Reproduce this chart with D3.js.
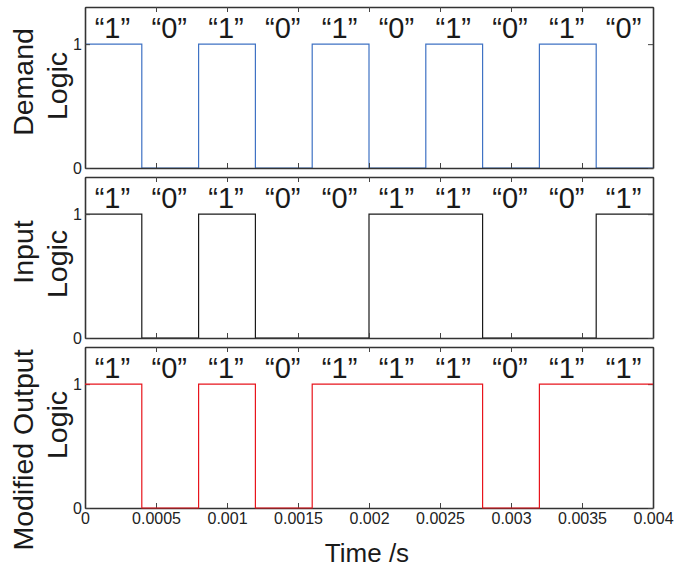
<!DOCTYPE html>
<html>
<head>
<meta charset="utf-8">
<script src="https://cdn.jsdelivr.net/npm/d3@7"></script>
<style>
  body { margin: 0; background: #fff; }
  svg { display: block; font-family: "Liberation Sans", Arial, Helvetica, sans-serif; }
</style>
</head>
<body>
<svg id="chart" width="676" height="572"></svg>
<script>
// ---- data ----
const bitPeriod = 0.0004;            // seconds per bit
const demandBits = [1,0,1,0,1,0,1,0,1,0];
const inputBits  = [1,0,1,0,0,1,1,0,0,1];
const outputBits = [1,0,1,0,1,1,1,0,1,1];
const panelNames = [["Demand","Logic"],["Input","Logic"],["Modified Output","Logic"]];
const panelColors = ["#3f72c4", "#1a1a1a", "#e8141c"];
const xTicks = [0,0.0005,0.001,0.0015,0.002,0.0025,0.003,0.0035,0.004];
const xTickLabels = ["0","0.0005","0.001","0.0015","0.002","0.0025","0.003","0.0035","0.004"];
const yTicks = [0,1];
const xLabel = "Time /s";

const allBits = [demandBits, inputBits, outputBits];

const svg = d3.select("#chart");
const left = 85, right = 653;
const panelTops = [7, 177, 347];
const panelH = 161;

const x = d3.scaleLinear().domain([0, 0.004]).range([left, right]);

// label vertical centres (measured) for the two label lines
const labelCenters = [[82, 86], [252, 264], [450, 425]];

allBits.forEach((bits, p) => {
  const top = panelTops[p], bottom = top + panelH;
  const y = d3.scaleLinear().domain([0, 1.3]).range([bottom, top]);
  const g = svg.append("g");

  const clipId = "clip" + p;
  svg.append("clipPath").attr("id", clipId)
    .append("rect").attr("x", left).attr("y", top).attr("width", right - left).attr("height", panelH);

  // step data
  const pts = [];
  bits.forEach((b, i) => { pts.push([i * bitPeriod, b]); pts.push([(i + 1) * bitPeriod, b]); });
  const line = d3.line().x(d => x(d[0])).y(d => y(d[1])).curve(d3.curveLinear);

  const drawLine = () => g.append("path").datum(pts)
      .attr("d", line).attr("fill", "none")
      .attr("stroke", panelColors[p]).attr("stroke-width", 1.2)
      .attr("clip-path", p === 2 ? null : `url(#${clipId})`);

  if (p !== 2) drawLine();

  // axes (box style)
  const axB = d3.axisBottom(x).tickValues(xTicks).tickSizeInner(-5).tickSizeOuter(0)
    .tickFormat((d, i) => p === 2 ? xTickLabels[i] : "");
  const gB = g.append("g").attr("transform", `translate(0,${bottom})`).call(axB);
  const axT = d3.axisTop(x).tickValues(xTicks).tickSizeInner(-5).tickSizeOuter(0).tickFormat("");
  const gT = g.append("g").attr("transform", `translate(0,${top})`).call(axT);
  const axL = d3.axisLeft(y).tickValues(yTicks).tickSizeInner(-5).tickSizeOuter(0).tickFormat(d3.format("d"));
  const gL = g.append("g").attr("transform", `translate(${left},0)`).call(axL);
  const axR = d3.axisRight(y).tickValues(yTicks).tickSizeInner(-5).tickSizeOuter(0).tickFormat("");
  const gR = g.append("g").attr("transform", `translate(${right},0)`).call(axR);

  [gB, gT, gL, gR].forEach(a => {
    a.select(".domain").attr("stroke", "#333").attr("stroke-width", 1.6);
    a.selectAll(".tick line").attr("stroke", "#444").attr("stroke-width", 1);
    a.selectAll("text").attr("fill", "#222").style("font-size", "16px")
      .style("font-family", '"Liberation Sans", Arial, sans-serif');
  });
  gL.selectAll("text").attr("x", -3).attr("dy", "0.35em");
  gB.selectAll("text").attr("y", 5).attr("dy", "0.71em");

  if (p === 2) drawLine();

  // bit labels
  g.append("g").attr("clip-path", `url(#${clipId})`)
    .selectAll("text").data(bits).join("text")
    .attr("x", (d, i) => x((i + 0.5) * bitPeriod) - 1)
    .attr("y", top + 31)
    .attr("text-anchor", "middle")
    .style("font-size", "29px").attr("fill", "#1a1a1a")
    .text(d => "\u201C" + d + "\u201D");

  // y labels (two lines)
  const names = panelNames[p];
  g.append("text").attr("transform", `translate(33,${labelCenters[p][0]}) rotate(-90)`)
    .attr("text-anchor", "middle").style("font-size", "28.5px").attr("fill", "#1a1a1a").text(names[0]);
  g.append("text").attr("transform", `translate(67,${labelCenters[p][1]}) rotate(-90)`)
    .attr("text-anchor", "middle").style("font-size", "28.5px").attr("fill", "#1a1a1a").text(names[1]);
});

svg.append("text").attr("x", 367).attr("y", 562).attr("text-anchor", "middle")
  .style("font-size", "26px").attr("fill", "#1a1a1a").text(xLabel);
</script>
</body>
</html>
